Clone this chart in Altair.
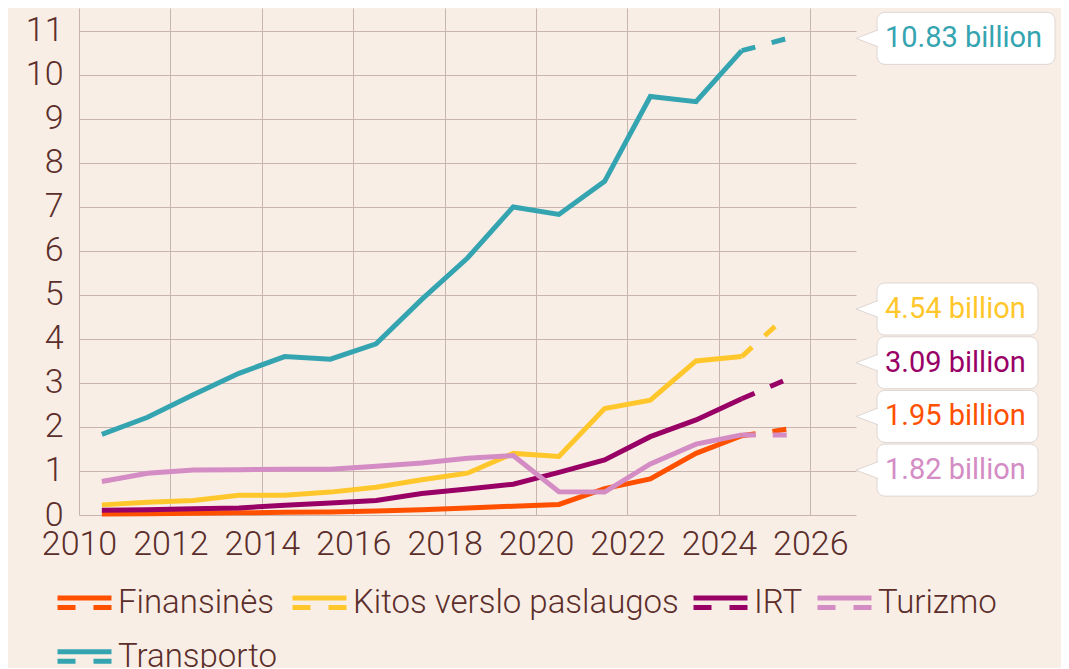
import altair as alt
import pandas as pd

# ---------------- data ----------------
years = [2010.5 + i for i in range(15)]          # observed points
proj_year = 2025.5                               # projected point
series = ["Finansinės", "Kitos verslo paslaugos", "IRT", "Turizmo", "Transporto"]
colors = ["#FF5000", "#FFC72C", "#990066", "#D48CC4", "#35A4B1"]

finansines = [0.02, 0.03, 0.04, 0.05, 0.06, 0.07, 0.09, 0.12, 0.16, 0.20, 0.24, 0.60, 0.82, 1.40, 1.80]
kitos = [0.23, 0.29, 0.33, 0.45, 0.45, 0.52, 0.63, 0.80, 0.95, 1.40, 1.33, 2.42, 2.61, 3.50, 3.60]
irt = [0.11, 0.12, 0.14, 0.16, 0.22, 0.27, 0.33, 0.49, 0.59, 0.70, 0.97, 1.25, 1.78, 2.16, 2.64]
turizmo = [0.76, 0.95, 1.02, 1.03, 1.04, 1.04, 1.11, 1.18, 1.29, 1.35, 0.53, 0.52, 1.16, 1.61, 1.82]
transporto = [1.83, 2.22, 2.73, 3.22, 3.60, 3.54, 3.89, 4.90, 5.84, 7.00, 6.83, 7.58, 9.51, 9.39, 10.55]
projection = [1.95, 4.54, 3.09, 1.82, 10.83]

values = [finansines, kitos, irt, turizmo, transporto]

# ---------------- tables ----------------
solid_rows = []
dash_rows = []
for s, vals, p in zip(series, values, projection):
    for yr, v in zip(years, vals):
        solid_rows.append({"series": s, "year": yr, "value": v})
    dash_rows.append({"series": s, "year": years[-1], "value": vals[-1]})
    dash_rows.append({"series": s, "year": proj_year, "value": p})
solid_df = pd.DataFrame(solid_rows)
dash_df = pd.DataFrame(dash_rows)

# callout label layout: group overlapping labels and centre them on their mean
X_MAX = 2027
Y_MAX = 11.52
PLOT_W, PLOT_H = 777, 507
px_per_unit = PLOT_H / Y_MAX
px_per_year = PLOT_W / (X_MAX - 2010)
gap = 53.7 / px_per_unit

order = sorted(range(len(series)), key=lambda i: -projection[i])
clusters = []
for i in order:
    clusters.append([i])
    while len(clusters) > 1:
        a, b = clusters[-2], clusters[-1]
        ma = sum(projection[k] for k in a) / len(a)
        mb = sum(projection[k] for k in b) / len(b)
        low_a = ma - (len(a) - 1) / 2 * gap
        high_b = mb + (len(b) - 1) / 2 * gap
        if low_a - high_b < gap:
            clusters[-2:] = [a + b]
        else:
            break
lab_pos = {}
for c in clusters:
    m = sum(projection[k] for k in c) / len(c)
    for j, k in enumerate(c):
        lab_pos[k] = m + ((len(c) - 1) / 2 - j) * gap

lab_rows = []
for i, (s, p) in enumerate(zip(series, projection)):
    txt = f"{p:.2f} billion"
    box_px = 21 + 17 * len(txt) - 43
    lab_rows.append({
        "series": s, "label": txt, "anchor": X_MAX,
        "box_end": X_MAX + box_px / px_per_year, "lab_y": lab_pos[i],
    })
lab_df = pd.DataFrame(lab_rows)

# ---------------- chart ----------------
TEXT = "#5B2E2B"
GRID = "#C9B5AF"
color_scale = alt.Scale(domain=series, range=colors)
xs = alt.Scale(domain=[2010, X_MAX], nice=False, zero=False)
ys = alt.Scale(domain=[0, Y_MAX], nice=False)

x_enc = alt.X("year:Q", scale=xs, title=None,
              axis=alt.Axis(values=list(range(2010, 2027, 2)), format="d", labelPadding=12,
                            labelFlush=False, labelOverlap=False))
y_enc = alt.Y("value:Q", scale=ys, title=None,
              axis=alt.Axis(values=list(range(0, 12)), labelPadding=16,
                            labelFlush=False, labelOverlap=False))

legend_path = "M-1,-0.176H1M-1,0.176H-0.333M0.333,0.176H1"

solid = alt.Chart(solid_df).mark_line(strokeWidth=5, strokeJoin="miter").encode(
    x=x_enc, y=y_enc,
    color=alt.Color("series:N", scale=color_scale, sort=series, title=None,
                    legend=alt.Legend(orient="none", legendX=-24, legendY=565,
                                      direction="horizontal", columns=4,
                                      symbolType=legend_path, symbolSize=2916,
                                      symbolStrokeWidth=5, labelFont="Roboto",
                                      labelFontWeight=300, labelFontSize=33,
                                      labelColor=TEXT, labelOffset=4,
                                      columnPadding=4, rowPadding=7, padding=0,
                                      labelLimit=600)),
    order=alt.Order("year:Q"),
)

dashed = alt.Chart(dash_df).mark_line(strokeWidth=5, strokeDash=[14, 17]).encode(
    x=alt.X("year:Q", scale=xs), y=alt.Y("value:Q", scale=ys),
    color=alt.Color("series:N", scale=color_scale, legend=None),
)

boxes = alt.Chart(lab_df).mark_rect(
    xOffset=21, yOffset=-26, y2Offset=26, cornerRadius=8,
    fill="white", stroke="#DDD6D3", strokeWidth=1,
).encode(
    x=alt.X("anchor:Q", scale=xs), x2="box_end:Q",
    y=alt.Y("lab_y:Q", scale=ys), y2="lab_y:Q",
)

pointers = alt.Chart(lab_df).mark_point(
    shape="M2.1,-0.8L0,0L2.1,0.8", size=441, filled=True,
    fill="white", stroke="#DDD6D3", strokeWidth=1, opacity=1,
).encode(
    x=alt.X("anchor:Q", scale=xs), y=alt.Y("lab_y:Q", scale=ys),
)

texts = alt.Chart(lab_df).mark_text(
    align="left", baseline="middle", dx=29, fontSize=29, font="Roboto",
).encode(
    x=alt.X("anchor:Q", scale=xs), y=alt.Y("lab_y:Q", scale=ys),
    text="label:N",
    color=alt.Color("series:N", scale=color_scale, legend=None),
)

chart = alt.layer(solid, dashed, boxes, pointers, texts).properties(
    width=PLOT_W, height=PLOT_H,
    autosize="none",
    padding={"left": 71, "top": 0, "right": 205, "bottom": 153},
    background="#F9EEE6",
).configure_view(stroke=None).configure_axis(
    grid=True, gridColor=GRID, gridWidth=1, domain=False, ticks=False,
    labelFont="Roboto", labelFontWeight=300, labelFontSize=34, labelColor=TEXT,
)

chart.save("out.html", embed_options={"renderer": "svg", "actions": False})
